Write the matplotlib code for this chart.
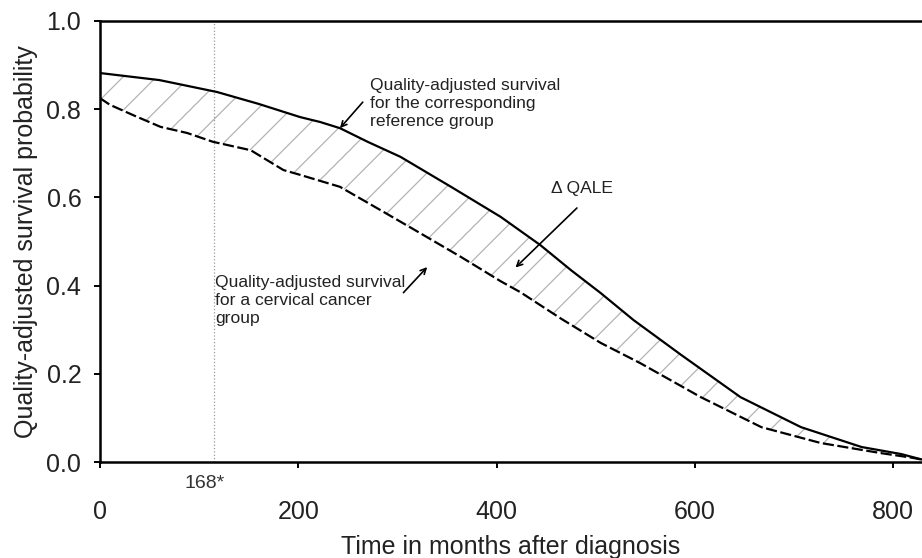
import matplotlib
matplotlib.use("Agg")
import matplotlib.pyplot as plt
import numpy as np

plt.rcParams['font.family'] = ['Liberation Sans', 'DejaVu Sans']
plt.rcParams['hatch.color'] = '#b4b4b4'
plt.rcParams['hatch.linewidth'] = 0.9

# Reference group (solid)
ref_months = [0, 60, 118, 160, 202, 222, 242, 270, 303, 354, 404, 444, 475, 505, 538, 586, 646, 707, 768, 808, 830]
ref_surv = [0.882, 0.866, 0.839, 0.812, 0.782, 0.771, 0.757, 0.726, 0.692, 0.624, 0.556, 0.492, 0.435, 0.383, 0.322, 0.243, 0.147, 0.079, 0.034, 0.018, 0.005]

# Cervical cancer group (dashed)
cc_months = [0, 10, 35, 61, 88, 114, 152, 185, 202, 242, 283, 316, 364, 404, 424, 465, 505, 545, 606, 667, 727, 788, 818, 830]
cc_surv = [0.825, 0.810, 0.785, 0.760, 0.746, 0.726, 0.707, 0.662, 0.651, 0.624, 0.571, 0.528, 0.465, 0.410, 0.385, 0.325, 0.270, 0.224, 0.147, 0.079, 0.043, 0.020, 0.010, 0.005]

x_ticks = [0, 200, 400, 600, 800]
y_ticks = [0.0, 0.2, 0.4, 0.6, 0.8, 1.0]
marker_month = 115
marker_label = "168*"

fig = plt.figure(figsize=(9.22, 5.58), dpi=100)
ax = fig.add_axes([100/922, 96/558, 822/922, 441/558])

# shaded area between curves
grid = np.union1d(ref_months, cc_months)
r = np.interp(grid, ref_months, ref_surv)
c = np.interp(grid, cc_months, cc_surv)
ax.fill_between(grid, c, r, facecolor='none', edgecolor='#b4b4b4', hatch='/', linewidth=0)

ax.axvline(marker_month, color='#9a9a9a', linestyle=':', linewidth=0.9)

ax.plot(ref_months, ref_surv, color='black', linewidth=1.6, solid_capstyle='butt')
ax.plot(cc_months, cc_surv, color='black', linewidth=1.6, linestyle=(0, (5, 1.6)))

ax.set_xlim(0, 829)
ax.set_ylim(0, 1.0)
ax.set_xticks(x_ticks)
ax.set_yticks(y_ticks)
ax.set_xticklabels([str(v) for v in x_ticks])
ax.set_yticklabels([f"{v:.1f}" for v in y_ticks])
ax.tick_params(axis='both', direction='out', length=4.5, width=1.4, labelsize=18,
               colors='black', labelcolor='#222222')
ax.tick_params(axis='x', pad=23)
ax.tick_params(axis='y', pad=9)

for s in ['left', 'bottom', 'top']:
    ax.spines[s].set_linewidth(1.8)
ax.spines['right'].set_visible(False)

ax.set_xlabel("Time in months after diagnosis", fontsize=18, labelpad=8, color='#222222')
ax.set_ylabel("Quality-adjusted survival probability", fontsize=18, labelpad=6, color='#222222')

ax.text(marker_month - 9, -0.048, marker_label, ha='center', va='center', fontsize=14, color='#333333')

fs = 12.6
ax.text(272, 0.814, "Quality-adjusted survival\nfor the corresponding\nreference group",
        fontsize=fs, ha='left', va='center', linespacing=1.25, color='#222222')
ax.annotate("", xy=(242, 0.757), xytext=(265, 0.816),
            arrowprops=dict(arrowstyle='->', color='black', lw=1.2, shrinkA=0, shrinkB=0))
ax.text(455, 0.62, "Δ QALE", fontsize=fs, ha='left', va='center', color='#222222')
ax.annotate("", xy=(419, 0.441), xytext=(481, 0.576),
            arrowprops=dict(arrowstyle='->', color='black', lw=1.2, shrinkA=0, shrinkB=0))
ax.text(116, 0.424, "Quality-adjusted survival\nfor a cervical cancer\ngroup", fontsize=fs,
        ha='left', va='top', linespacing=1.25, color='#222222')
ax.annotate("", xy=(330, 0.442), xytext=(306, 0.384),
            arrowprops=dict(arrowstyle='->', color='black', lw=1.2, shrinkA=0, shrinkB=0))

fig.savefig("out.png", dpi=100)
